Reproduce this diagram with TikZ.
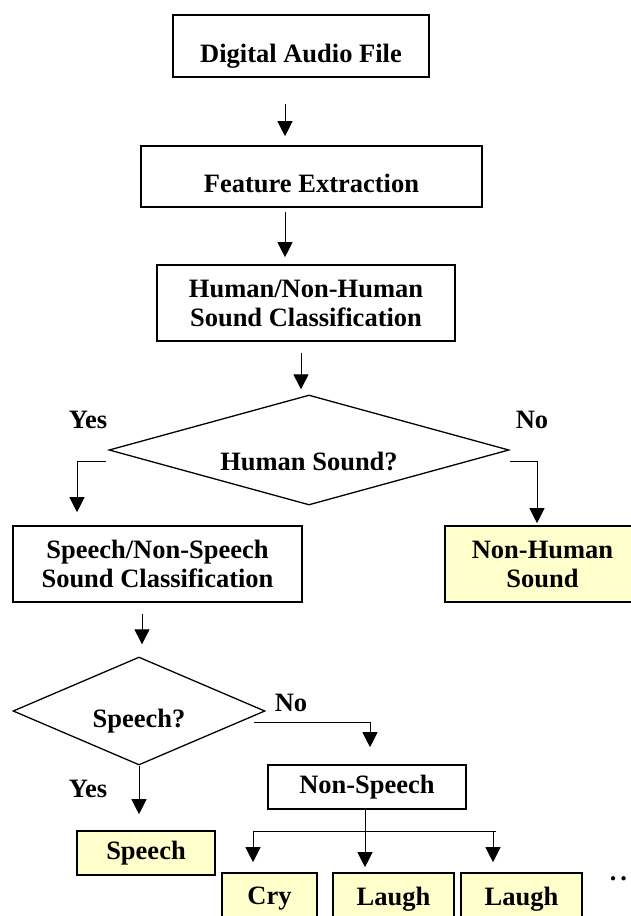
\documentclass[tikz,border=0pt]{standalone}
\usepackage{fontspec}
\setmainfont{Liberation Serif}
\usetikzlibrary{arrows.meta,shapes.geometric}
\definecolor{pale}{HTML}{FFFFCC}
\begin{document}
\begin{tikzpicture}[x=1pt,y=-1pt,
  every node/.style={font=\fontsize{26.5}{29}\selectfont\bfseries},
  box/.style={draw, line width=1.6pt, rectangle, inner sep=0pt, align=center},
  leaf/.style={box, fill=pale},
  dec/.style={draw, diamond, line width=1.3pt, inner sep=0pt},
  arr/.style={line width=1pt, -{Triangle[width=15pt,length=15pt]}},
  conn/.style={line width=1pt}]
\useasboundingbox (0,0) rectangle (631,916);
\clip (0,0) rectangle (631,916);

\node[box, minimum width=256pt, minimum height=62pt, text height=32pt, text depth=0pt] (daf) at (301,46) {Digital Audio File};
\node[box, minimum width=341pt, minimum height=61pt, text height=31pt, text depth=0pt] (fe) at (311.5,176.5) {Feature Extraction};
\node[box, minimum width=298pt, minimum height=76pt] (hnh) at (306,303) {Human/Non-Human\\Sound Classification};
\node[dec, minimum width=400pt, minimum height=110pt, aspect=3.6, text height=41.4pt, text depth=0pt] (d1) at (309,450) {Human Sound?};
\node[box, minimum width=289pt, minimum height=76pt] (sns) at (157.5,564) {Speech/Non-Speech\\Sound Classification};
\node[leaf, minimum width=195pt, minimum height=76pt] (nh) at (542.5,564) {Non-Human\\Sound};
\node[dec, minimum width=252pt, minimum height=108pt, aspect=2.33, text height=32pt, text depth=0pt] (d2) at (139,711) {Speech?};
\node[box, minimum width=198pt, minimum height=44pt] (ns) at (367,787) {Non-Speech};
\node[leaf, minimum width=138pt, minimum height=44pt] (sp) at (146,853) {Speech};
\node[leaf, minimum width=95pt, minimum height=52pt] (cry) at (269.5,899) {Cry};
\node[leaf, minimum width=121pt, minimum height=52pt] (l1) at (393.5,899) {Laugh};
\node[leaf, minimum width=121pt, minimum height=52pt] (l2) at (521.5,899) {Laugh};
\node (dots) at (618.5,879) {.\kern4pt.};

\node (yes1) at (88,420) {Yes};
\node (no1) at (532,420) {No};
\node (no2) at (291,703) {No};
\node (yes2) at (88,789) {Yes};

\draw[arr, shorten <=26pt, shorten >=9pt] ([xshift=-16pt]daf.south) -- ([xshift=-16pt]daf.south |- fe.north);
\draw[arr, shorten <=4pt, shorten >=7pt] ([xshift=-26.5pt]fe.south) -- ([xshift=-26.5pt]fe.south |- hnh.north);
\draw[arr, shorten <=11pt, shorten >=5pt] ([xshift=-5pt]hnh.south) -- ([xshift=-5pt]hnh.south |- d1.north);

\draw[arr, shorten >=13pt] ([shift={(-2,11)}]d1.west) -| ([xshift=-80.5pt]sns.north);
\draw[arr, shorten >=2pt] ([shift={(0,11)}]d1.east) -| ([xshift=-5.5pt]nh.north);

\draw[arr, shorten <=11pt, shorten >=12pt] ([xshift=-15.5pt]sns.south) -- ([xshift=-15.5pt]sns.south |- d2.north);
\draw[arr, shorten >=17pt] ([shift={(-12,11)}]d2.east) -| ([xshift=3pt]ns.north);
\draw[arr, shorten >=16pt] (d2.south) -- (d2.south |- sp.north);

\coordinate (bl) at (253,831);
\coordinate (br) at (496,831);
\draw[conn] (bl) -- (br);
\draw[arr, shorten >=10pt] (bl) -- (bl |- cry.north);
\draw[arr, shorten >=10pt] ([xshift=-3pt]br) -- ([xshift=-3pt]br |- l2.north);
\draw[arr, shorten >=5pt] ([xshift=-2pt]ns.south) -- ([xshift=-2pt]ns.south |- l1.north);
\end{tikzpicture}
\end{document}
